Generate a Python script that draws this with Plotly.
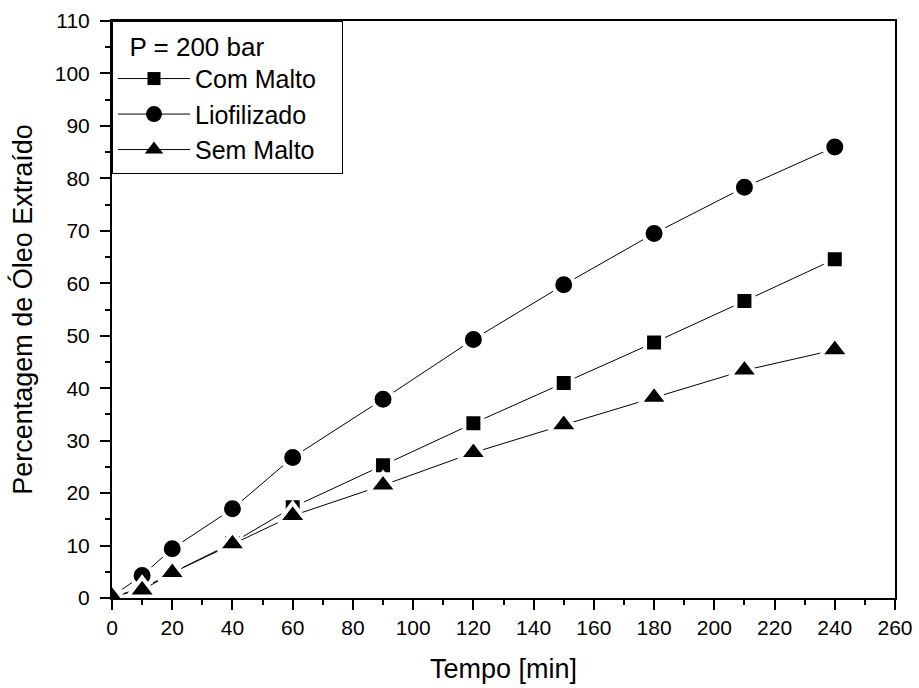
import plotly.graph_objects as go

tempo = [0, 10, 20, 40, 60, 90, 120, 150, 180, 210, 240]
com_malto = [0.3, 1.8, 4.8, 10.5, 17.3, 25.3, 33.3, 41.0, 48.7, 56.6, 64.6]
liofilizado = [0.3, 4.3, 9.4, 17.0, 26.8, 37.9, 49.3, 59.7, 69.5, 78.3, 86.0]
sem_malto = [0.3, 1.5, 4.8, 10.3, 15.7, 21.5, 27.7, 33.0, 38.2, 43.4, 47.3]

# name, values, symbol, plot marker size, legend marker size
series = [
    ("Com Malto", com_malto, "square", 18, 13),
    ("Liofilizado", liofilizado, "circle", 21, 16),
    ("Sem Malto", sem_malto, "triangle-up", 25, 17),
]

fig = go.Figure()
for name, vals, sym, size, _ in series:
    # white marker outline leaves a small gap where the line meets each marker
    fig.add_trace(go.Scatter(
        x=tempo, y=vals, name=name, mode="lines+markers", showlegend=False,
        line=dict(color="black", width=1),
        marker=dict(symbol=sym, size=size, color="black",
                    line=dict(color="white", width=4)),
    ))

# legend entries with plain solid markers
for name, _, sym, _, lsize in series:
    fig.add_trace(go.Scatter(
        x=[None], y=[None], name=name + "\u00a0\u00a0\u00a0", mode="lines+markers",
        line=dict(color="black", width=1),
        marker=dict(symbol=sym, size=lsize, color="black"),
    ))

font = "Liberation Sans, Arial, sans-serif"
axis_common = dict(
    showline=True, linecolor="black", linewidth=2, mirror=True,
    ticks="outside", ticklen=10, tickwidth=2, tickcolor="black",
    showgrid=False, zeroline=False, automargin=False,
    tickfont=dict(family=font, size=21, color="black"),
)

fig.update_layout(
    width=919, height=688,
    margin=dict(l=112, r=24, t=21, b=90),
    paper_bgcolor="white", plot_bgcolor="white",
    font=dict(family=font, color="black"),
    showlegend=True,
    legend=dict(
        title=dict(text="\u00a0\u00a0P = 200 bar", font=dict(size=26, family=font)),
        font=dict(size=25, family=font),
        x=0, y=1, xanchor="left", yanchor="top",
        bordercolor="black", borderwidth=1, bgcolor="white",
        itemwidth=72, tracegroupgap=0,
    ),
    xaxis=dict(
        range=[0, 260], dtick=20, tick0=0,
        title=dict(text="Tempo [min]", font=dict(size=27, family=font), standoff=21),
        minor=dict(dtick=10, ticks="outside", ticklen=5, tickwidth=2, tickcolor="black"),
        **axis_common,
    ),
    yaxis=dict(
        range=[0, 110], dtick=10, tick0=0,
        ticklabelstandoff=6,
        title=dict(text="Percentagem de Óleo Extraído", font=dict(size=27, family=font), standoff=14),
        minor=dict(dtick=5, ticks="outside", ticklen=5, tickwidth=2, tickcolor="black"),
        **axis_common,
    ),
)

fig.write_html("out.html")
